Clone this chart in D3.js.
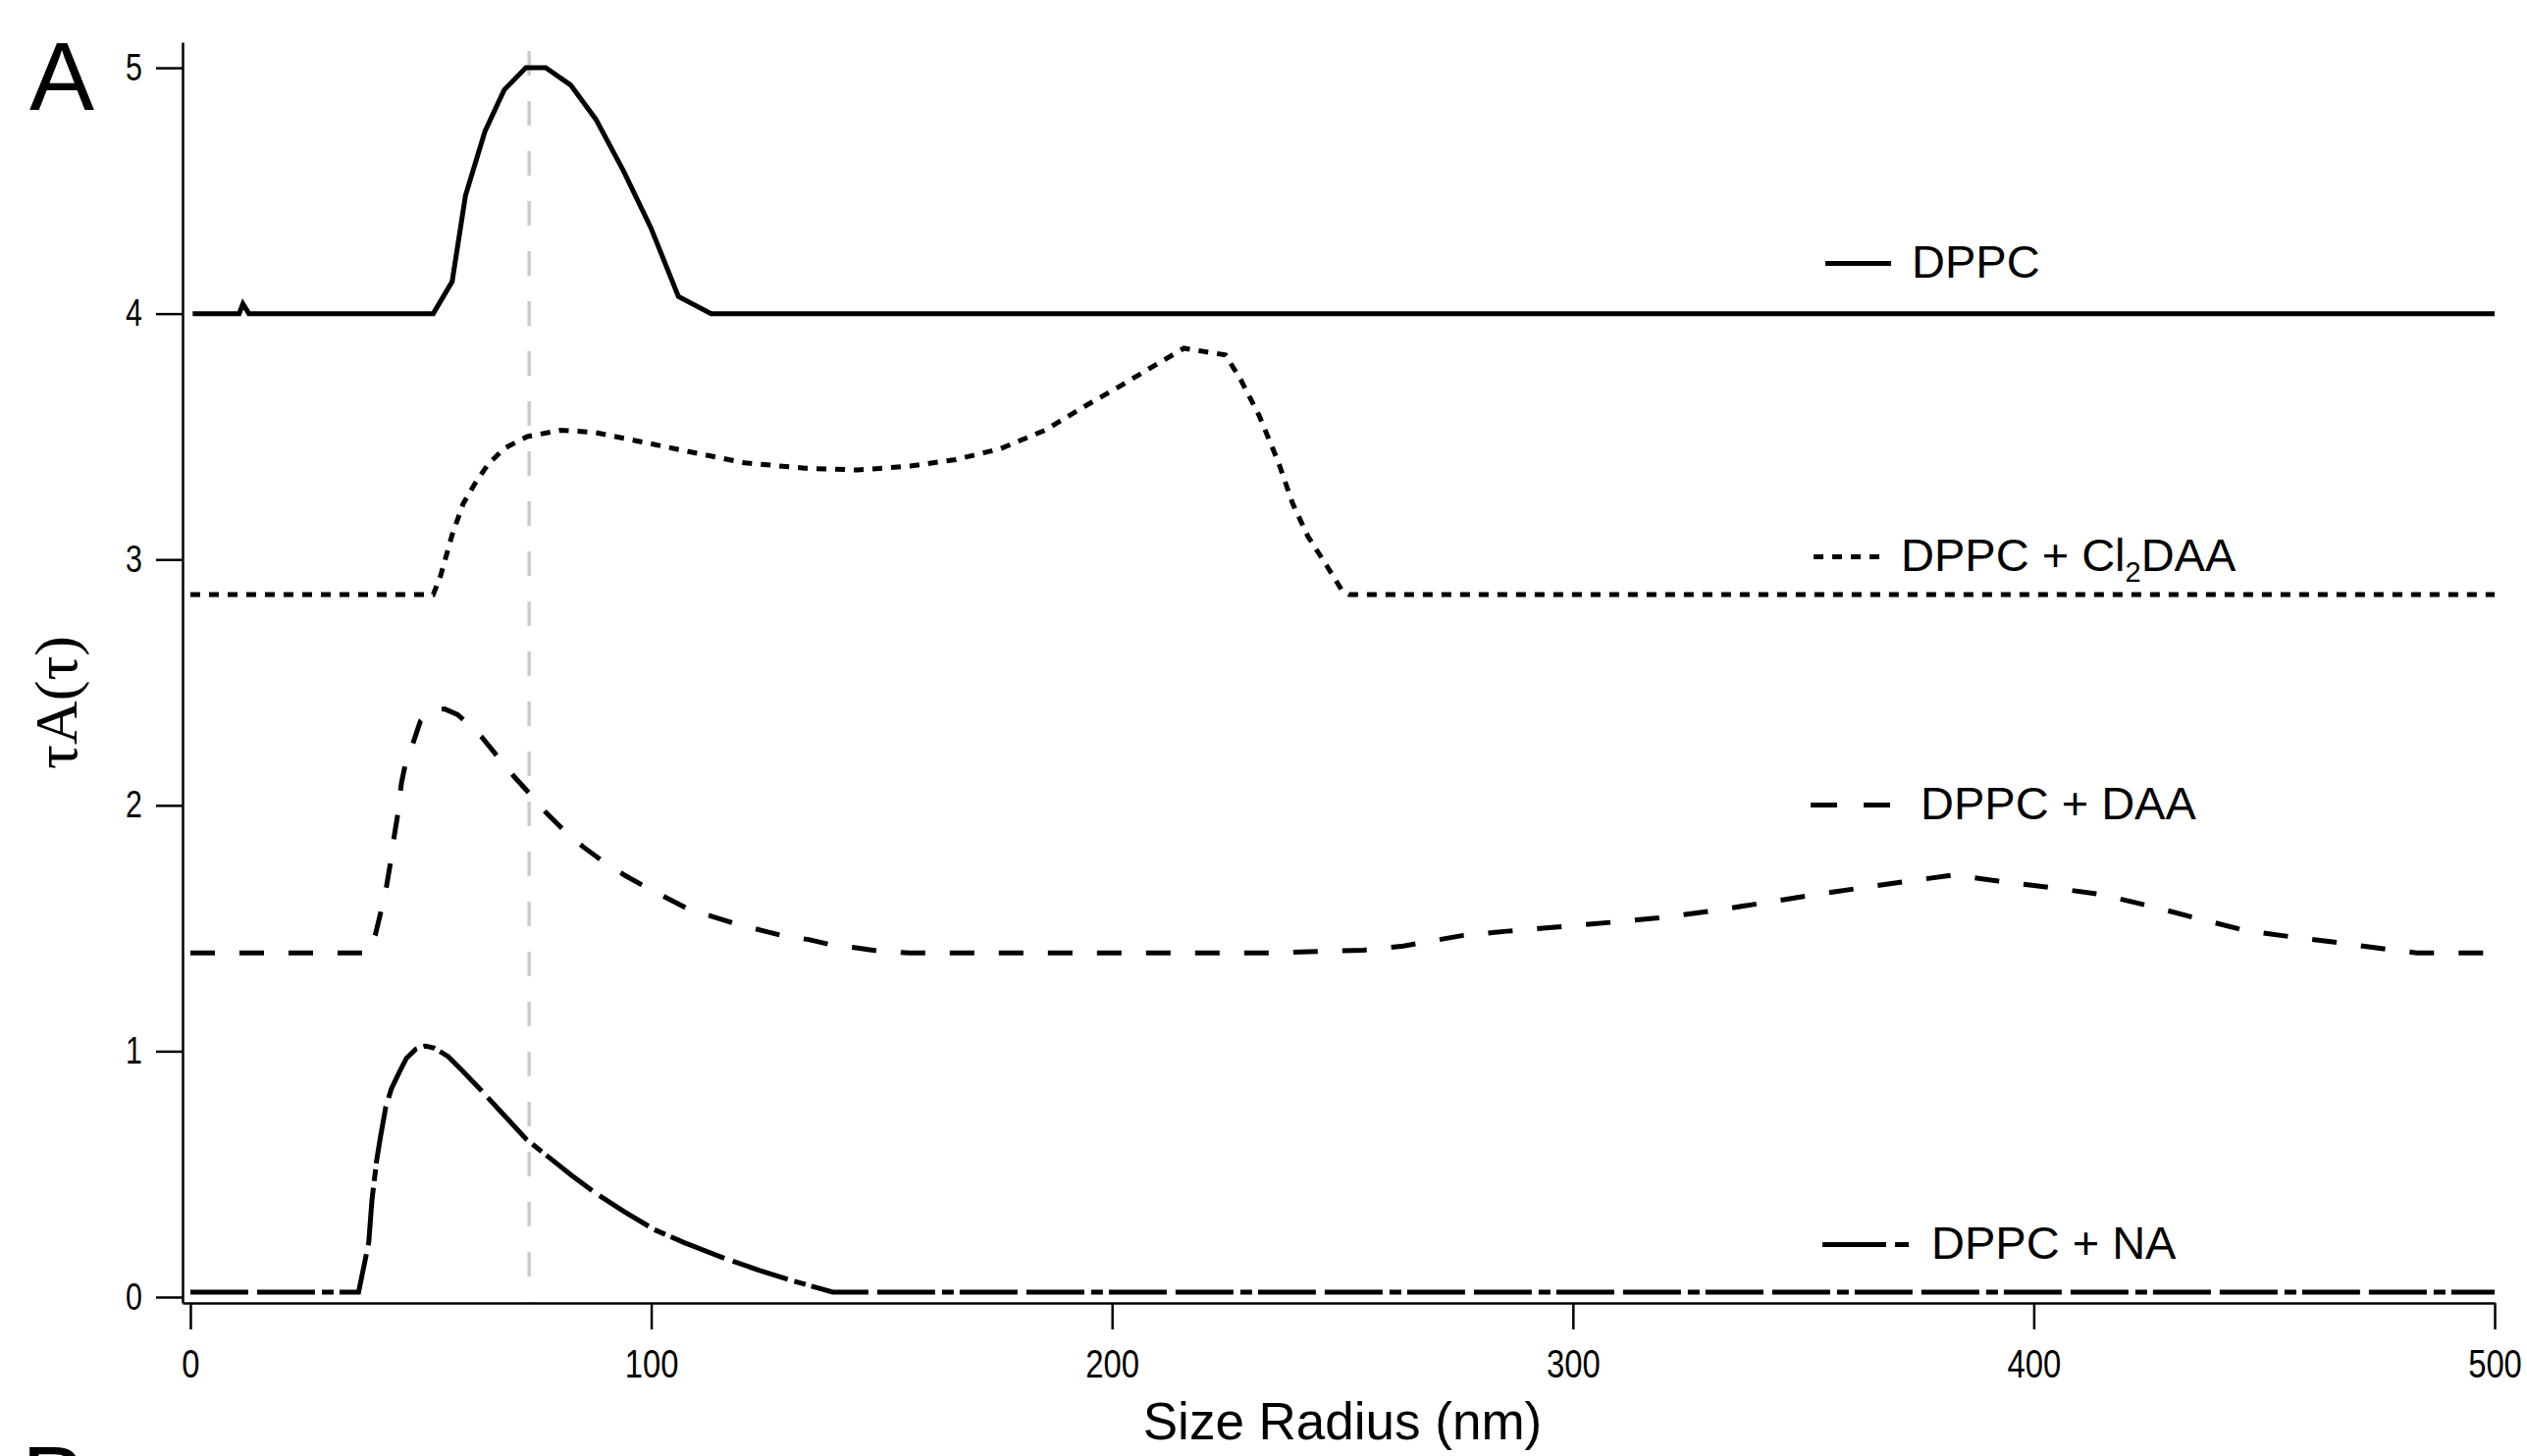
<!DOCTYPE html>
<html>
<head>
<meta charset="utf-8">
<script src="https://cdn.jsdelivr.net/npm/d3@7"></script>
<style>
  html, body { margin: 0; padding: 0; background: #ffffff; }
  svg { display: block; }
</style>
</head>
<body>
<svg id="chart" width="2575" height="1484"></svg>
<script>
// Size distributions tau*A(tau) versus hydrodynamic radius, offset vertically per sample.

// DPPC (offset baseline 4)
const radiusDPPC = [0.5, 10.6, 11.4, 12.7, 52.7, 56.8, 59.7, 63.9, 68.1, 72.8, 77.1, 82.5, 88.0, 94.0, 99.9, 105.9, 113.0, 500];
const tauADPPC   = [4.0, 4.0, 4.04, 4.0, 4.0, 4.13, 4.48, 4.74, 4.91, 5.0, 5.0, 4.93, 4.79, 4.58, 4.35, 4.07, 4.0, 4.0];

// DPPC + Cl2DAA (baseline 2.86)
const radiusCl2DAA = [0, 52.7, 54.3, 56.8, 59.2, 61.7, 64.6, 68.2, 73.1, 80.4, 87.7, 97.5, 107.3, 120.3, 133.4, 144.8,
  156.2, 166.0, 175.7, 185.5, 193.7, 201.8, 208.3, 215.6, 224.6, 227.9, 231.9, 236.0, 239.2, 242.5, 246.6, 249.9, 251.5, 500];
const tauACl2DAA   = [2.857, 2.857, 2.934, 3.10, 3.227, 3.307, 3.387, 3.453, 3.50, 3.526, 3.517, 3.48, 3.442, 3.393, 3.371, 3.364,
  3.38, 3.406, 3.45, 3.526, 3.619, 3.706, 3.779, 3.859, 3.832, 3.732, 3.586, 3.40, 3.227, 3.094, 2.974, 2.874, 2.857, 2.857];

// DPPC + DAA (baseline 1.40)
const radiusDAA = [0, 38.5, 40.1, 41.3, 42.5, 43.4, 44.2, 45.0, 45.8, 46.6, 48.5, 49.9, 52.3, 55.2, 58.0, 59.2, 63.3, 66.6, 70.3,
  73.5, 77.2, 80.8, 85.3, 89.4, 94.3, 98.8, 103.7, 108.2, 113.4, 118.3, 124.0, 128.9, 134.2, 139.5, 144.8, 150.3, 156.0,
  235.5, 254.6, 263.2, 276.2, 285.7, 297.8, 308.2, 318.6, 329.9, 340.3, 350.7, 361.0, 372.3, 382.7, 393.1, 404.3, 414.7,
  425.1, 435.5, 445.9, 456.3, 467.5, 477.9, 483.1, 500];
const tauADAA   = [1.40, 1.40, 1.471, 1.564, 1.664, 1.764, 1.87, 1.963, 2.09, 2.163, 2.263, 2.342, 2.385, 2.392, 2.369, 2.349, 2.276, 2.20, 2.116,
  2.05, 1.97, 1.903, 1.83, 1.774, 1.715, 1.668, 1.62, 1.577, 1.547, 1.518, 1.491, 1.468, 1.454, 1.431, 1.42, 1.405, 1.40,
  1.40, 1.411, 1.428, 1.471, 1.488, 1.507, 1.524, 1.542, 1.57, 1.60, 1.631, 1.66, 1.69, 1.717, 1.69, 1.664, 1.637,
  1.591, 1.54, 1.491, 1.464, 1.438, 1.411, 1.40, 1.40];

// DPPC + NA (baseline 0.02)
const radiusNA = [0, 36.5, 37.9, 38.7, 39.4, 40.4, 41.2, 42.4, 43.6, 45.3, 46.9, 48.9, 51.0, 53.0, 55.9, 59.1, 63.2, 68.1,
  73.0, 77.9, 82.8, 87.6, 94.2, 100.7, 107.2, 115.4, 123.5, 131.6, 139.4, 500];
const tauANA   = [0.02, 0.02, 0.148, 0.221, 0.394, 0.553, 0.646, 0.773, 0.846, 0.913, 0.972, 1.008, 1.021, 1.012, 0.979, 0.919, 0.839, 0.739,
  0.64, 0.567, 0.494, 0.427, 0.347, 0.274, 0.221, 0.161, 0.108, 0.061, 0.02, 0.02];

// Reference radius marked by the grey dashed guide
const referenceRadius = 73.5;

const seriesNames = ["DPPC", "DPPC + Cl2DAA", "DPPC + DAA", "DPPC + NA"];
const xTicks = [0, 100, 200, 300, 400, 500];
const yTicks = [0, 1, 2, 3, 4, 5];
const xTitle = "Size Radius (nm)";
const yTitle = "τA(τ)";
const panelLabels = ["A", "B"];

// ---------------------------------------------------------------------------
const svg = d3.select("#chart");
svg.append("rect").attr("width", 2575).attr("height", 1484).attr("fill", "#ffffff");

const sans = "'Liberation Sans', Arial, Helvetica, sans-serif";
const serif = "'Liberation Serif', 'Times New Roman', Times, serif";

const x = d3.scaleLinear().domain([-1.7, 500]).range([186, 2542]);
const y = d3.scaleLinear().domain([-0.024, 5.104]).range([1328, 43]);

const series = [
  { name: seriesNames[0], r: radiusDPPC,   v: tauADPPC,   dash: null },
  { name: seriesNames[1], r: radiusCl2DAA, v: tauACl2DAA, dash: "10,9" },
  { name: seriesNames[2], r: radiusDAA,    v: tauADAA,    dash: "25,25" },
  { name: seriesNames[3], r: radiusNA,     v: tauANA,     dash: "59,9,59,7,12,6" }
];

// grey guide at the reference radius
svg.append("line")
  .attr("x1", x(referenceRadius)).attr("x2", x(referenceRadius))
  .attr("y1", y(5.068)).attr("y2", y.range()[0])
  .attr("stroke", "#cbcbcb").attr("stroke-width", 3.5)
  .attr("stroke-dasharray", "25,26");

// axes
const condense = 0.8;   // narrow tick digits
const xAxis = svg.append("g")
  .attr("transform", `translate(0,${y.range()[0]})`)
  .call(d3.axisBottom(x).tickValues(xTicks).tickFormat(d3.format("d"))
    .tickSize(27).tickSizeOuter(0).tickPadding(20));
const yAxis = svg.append("g")
  .attr("transform", `translate(${x.range()[0]},0)`)
  .call(d3.axisLeft(y).tickValues(yTicks).tickFormat(d3.format("d"))
    .tickSize(27).tickSizeOuter(0).tickPadding(14));

[xAxis, yAxis].forEach(g => {
  g.select(".domain").attr("stroke", "#000").attr("stroke-width", 2.5);
  g.selectAll(".tick line").attr("stroke", "#000").attr("stroke-width", 2.5);
  g.selectAll(".tick text").attr("fill", "#000").attr("font-family", sans);
});
xAxis.selectAll(".tick text")
  .attr("font-size", 41)
  .attr("transform", `scale(${condense},1)`);
yAxis.selectAll(".tick text")
  .attr("font-size", 38)
  .attr("x", -(27 + 14) / condense)
  .attr("transform", `scale(${condense},1)`);

// curves
const line = d3.line().x(d => x(d[0])).y(d => y(d[1]));
series.forEach(s => {
  const pts = s.r.map((r, i) => [r, s.v[i]]);
  svg.append("path")
    .attr("d", line(pts))
    .attr("fill", "none")
    .attr("stroke", "#000")
    .attr("stroke-width", 5)
    .attr("stroke-linejoin", "miter")
    .attr("stroke-dasharray", s.dash);
});

// legend entries placed beside each curve
const legendLayout = [
  { x1: 1860, x2: 1927, tx: 1948, base: 283, dash: null },
  { x1: 1848, x2: 1915, tx: 1937, base: 582, dash: "10,9" },
  { x1: 1845, x2: 1926, tx: 1957, base: 835, dash: "27,27" },
  { x1: 1857, x2: 1945, tx: 1968, base: 1283, dash: "65,9,14" }
];
series.forEach((s, i) => {
  const L = legendLayout[i];
  svg.append("line")
    .attr("x1", L.x1).attr("x2", L.x2)
    .attr("y1", L.base - 14.5).attr("y2", L.base - 14.5)
    .attr("stroke", "#000").attr("stroke-width", 5)
    .attr("stroke-dasharray", L.dash);
  const t = svg.append("text")
    .attr("x", L.tx).attr("y", L.base)
    .attr("font-family", sans).attr("font-size", 47).attr("fill", "#000");
  const m = s.name.match(/^(.*Cl)(2)(.*)$/);
  if (m) {
    t.append("tspan").text(m[1]);
    t.append("tspan").attr("font-size", 29).attr("dy", 11).text(m[2]);
    t.append("tspan").attr("dy", -11).text(m[3]);
  } else {
    t.text(s.name);
  }
});

// axis titles
svg.append("text")
  .attr("x", (x.range()[0] + x(500)) / 2 + 4).attr("y", 1467)
  .attr("text-anchor", "middle")
  .attr("font-family", sans).attr("font-size", 53).attr("fill", "#000")
  .text(xTitle);

svg.append("text")
  .attr("transform", "translate(78,716) rotate(-90)")
  .attr("text-anchor", "middle")
  .attr("font-family", serif).attr("font-size", 62).attr("fill", "#000")
  .text(yTitle);

// panel letters
svg.append("text")
  .attr("x", 30).attr("y", 112)
  .attr("font-family", sans).attr("font-size", 99).attr("fill", "#000")
  .text(panelLabels[0]);
svg.append("text")
  .attr("x", 22).attr("y", 1543)
  .attr("font-family", sans).attr("font-size", 99).attr("fill", "#000")
  .text(panelLabels[1]);
</script>
</body>
</html>
